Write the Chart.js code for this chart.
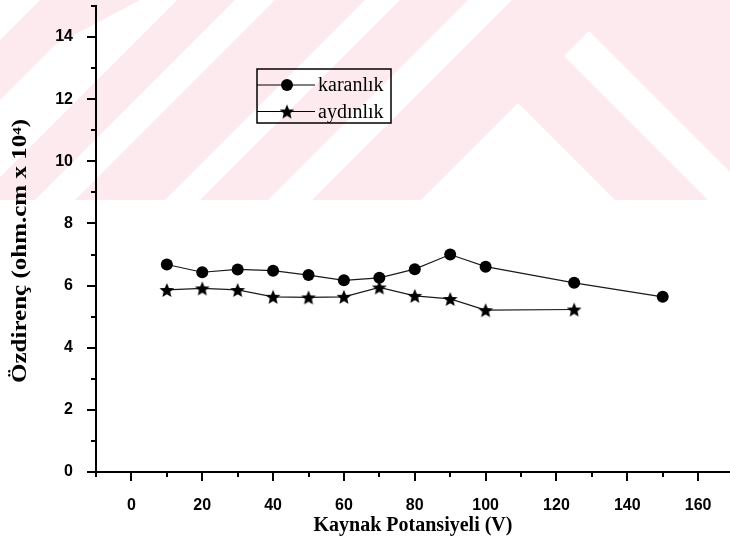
<!DOCTYPE html>
<html>
<head>
<meta charset="utf-8">
<title>Özdirenç - Kaynak Potansiyeli</title>
<script src="https://cdn.jsdelivr.net/npm/chart.js@4.4.1/dist/chart.umd.min.js"></script>
<style>
  html, body { margin: 0; padding: 0; background: #fff; }
  #wrap { width: 730px; height: 552px; }
</style>
</head>
<body>
<div id="wrap"><canvas id="chart" width="730" height="552"></canvas></div>
<script>
// data
const voltDark = [10, 20, 30, 40, 50, 60, 70, 80, 90, 100, 125, 150];
const karanlik = [6.68, 6.43, 6.52, 6.48, 6.34, 6.17, 6.25, 6.53, 7.00, 6.61, 6.09, 5.64];
const voltLight = [10, 20, 30, 40, 50, 60, 70, 80, 90, 100, 125];
const aydinlik = [5.86, 5.91, 5.86, 5.64, 5.62, 5.64, 5.94, 5.67, 5.57, 5.21, 5.23];
const xTickValues = [0, 20, 40, 60, 80, 100, 120, 140, 160];
const yTickValues = [0, 2, 4, 6, 8, 10, 12, 14];
const seriesNames = ['karanlık', 'aydınlık'];

// filled star used as point style
function makeStar(size) {
    const c = document.createElement('canvas');
    c.width = size; c.height = size;
    const g = c.getContext('2d');
    const cx = size / 2, cy = size / 2 + 0.7;
    const outer = size / 2 - 0.3, inner = outer * 0.45;
    g.beginPath();
    for (let i = 0; i < 10; i++) {
        const r = i % 2 === 0 ? outer : inner;
        const a = -Math.PI / 2 + i * Math.PI / 5;
        g.lineTo(cx + r * Math.cos(a), cy + r * Math.sin(a));
    }
    g.closePath();
    g.fillStyle = '#000';
    g.fill();
    return c;
}
const starImg = makeStar(16);

// faint pink watermark behind the top part of the scan
const watermark = {
    id: 'watermark',
    beforeDraw(chart) {
        const ctx = chart.ctx;
        ctx.save();
        ctx.fillStyle = '#fff';
        ctx.fillRect(0, 0, chart.width, chart.height);
        ctx.fillStyle = '#fdeaee';
        ctx.fillRect(0, 0, chart.width, 200);
        ctx.fillStyle = '#fff';
        const polys = [
            [[0, 0], [40, 0], [0, 40]],
            [[0, 100], [55, 45], [140, 0], [177, 0], [0, 177]],
            [[235, 0], [275, 0], [75, 200], [35, 200]],
            [[365, 0], [400, 0], [200, 200], [165, 200]],
            [[468, 0], [512, 0], [312, 200], [268, 200]],
            [[518, 103], [615, 200], [421, 200]],
            [[564, 56], [589, 31], [758, 200], [708, 200]]
        ];
        polys.forEach(p => {
            ctx.beginPath();
            p.forEach(([x, y], i) => i ? ctx.lineTo(x, y) : ctx.moveTo(x, y));
            ctx.closePath();
            ctx.fill();
        });
        ctx.restore();
    }
};

// outward ticks, long on labelled values, short in between
const axisTicks = {
    id: 'axisTicks',
    afterDraw(chart) {
        const ctx = chart.ctx;
        const xs = chart.scales.x, ys = chart.scales.y;
        const area = chart.chartArea;
        ctx.save();
        ctx.strokeStyle = '#000';
        ctx.lineWidth = 2;
        ctx.beginPath();
        for (let v = -10; v <= xs.max; v += 10) {
            const px = Math.round(xs.getPixelForValue(v));
            const len = xTickValues.includes(v) ? 9 : 5;
            ctx.moveTo(px, area.bottom);
            ctx.lineTo(px, area.bottom + len);
        }
        for (let v = 0; v <= ys.max; v += 1) {
            const py = Math.round(ys.getPixelForValue(v));
            const len = yTickValues.includes(v) ? 9 : 5;
            ctx.moveTo(area.left, py);
            ctx.lineTo(area.left - len, py);
        }
        ctx.stroke();
        ctx.restore();
    }
};

// y title, stretched a little like the scanned original
const yTitle = {
    id: 'yTitle',
    afterDraw(chart) {
        const ctx = chart.ctx;
        ctx.save();
        ctx.translate(21, 251);
        ctx.rotate(-Math.PI / 2);
        ctx.scale(1.25, 1);
        ctx.font = 'bold 20px "Liberation Serif", "Times New Roman", serif';
        ctx.fillStyle = '#000';
        ctx.textAlign = 'center';
        ctx.textBaseline = 'middle';
        ctx.fillText('Özdirenç (ohm.cm x 10⁴)', 0, 0);
        ctx.restore();
    }
};

// boxed legend inside the plot, line through the marker
const boxLegend = {
    id: 'boxLegend',
    afterDraw(chart) {
        const ctx = chart.ctx;
        const box = { x: 257, y: 69, w: 134, h: 54 };
        ctx.save();
        ctx.strokeStyle = '#000';
        ctx.lineWidth = 1.5;
        ctx.strokeRect(box.x, box.y, box.w, box.h);
        ctx.font = '20px "Liberation Serif", "Times New Roman", serif';
        ctx.textBaseline = 'middle';
        ctx.fillStyle = '#000';
        chart.data.datasets.forEach((ds, i) => {
            const y = box.y + 16 + i * 26.5;
            ctx.lineWidth = 1.2;
            ctx.beginPath();
            ctx.moveTo(box.x, y);
            ctx.lineTo(box.x + 58, y);
            ctx.stroke();
            if (ds.pointStyle === 'circle') {
                ctx.beginPath();
                ctx.arc(box.x + 30, y, ds.pointRadius, 0, Math.PI * 2);
                ctx.fill();
            } else {
                ctx.drawImage(ds.pointStyle, box.x + 30 - 8, y - 8);
            }
            ctx.fillText(ds.label, box.x + 61, y + 1);
        });
        ctx.restore();
    }
};

const tickFont = { family: '"Liberation Sans", Arial, sans-serif', size: 16, weight: 'bold', lineHeight: 1 };

const ctx = document.getElementById('chart');
new Chart(ctx, {
    type: 'line',
    data: {
        datasets: [
            {
                label: seriesNames[0],
                data: voltDark.map((v, i) => ({ x: v, y: karanlik[i] })),
                borderColor: '#1a1a1a',
                borderWidth: 1.2,
                pointStyle: 'circle',
                pointRadius: 6,
                pointBackgroundColor: '#000',
                pointBorderColor: '#000',
                pointBorderWidth: 0,
                tension: 0
            },
            {
                label: seriesNames[1],
                data: voltLight.map((v, i) => ({ x: v, y: aydinlik[i] })),
                borderColor: '#1a1a1a',
                borderWidth: 1.2,
                pointStyle: starImg,
                pointRadius: 8,
                tension: 0
            }
        ]
    },
    options: {
        responsive: false,
        animation: false,
        events: [],
        layout: { autoPadding: false, padding: { top: 6, right: 0, left: 0, bottom: 0 } },
        plugins: {
            legend: { display: false },
            tooltip: { enabled: false }
        },
        scales: {
            x: {
                type: 'linear',
                min: -10,
                max: 169,
                afterBuildTicks: s => { s.ticks = xTickValues.map(v => ({ value: v })); },
                afterFit: s => { s.height = 80; s.paddingLeft = 0; s.paddingRight = 0; },
                grid: { display: false },
                border: { display: true, color: '#000', width: 2 },
                ticks: {
                    color: '#000',
                    padding: 18,
                    maxRotation: 0,
                    font: tickFont
                },
                title: {
                    display: true,
                    text: 'Kaynak Potansiyeli (V)',
                    color: '#000',
                    padding: { top: 0, bottom: 14 },
                    font: { family: '"Liberation Serif", "Times New Roman", serif', size: 20, weight: 'bold' }
                }
            },
            y: {
                type: 'linear',
                min: 0,
                max: 15,
                afterBuildTicks: s => { s.ticks = yTickValues.map(v => ({ value: v })); },
                afterFit: s => { s.width = 96; s.paddingTop = 0; s.paddingBottom = 0; },
                grid: { display: false },
                border: { display: true, color: '#000', width: 2 },
                ticks: {
                    color: '#000',
                    padding: 15,
                    font: tickFont
                }
            }
        }
    },
    plugins: [watermark, axisTicks, yTitle, boxLegend]
});
</script>
</body>
</html>
